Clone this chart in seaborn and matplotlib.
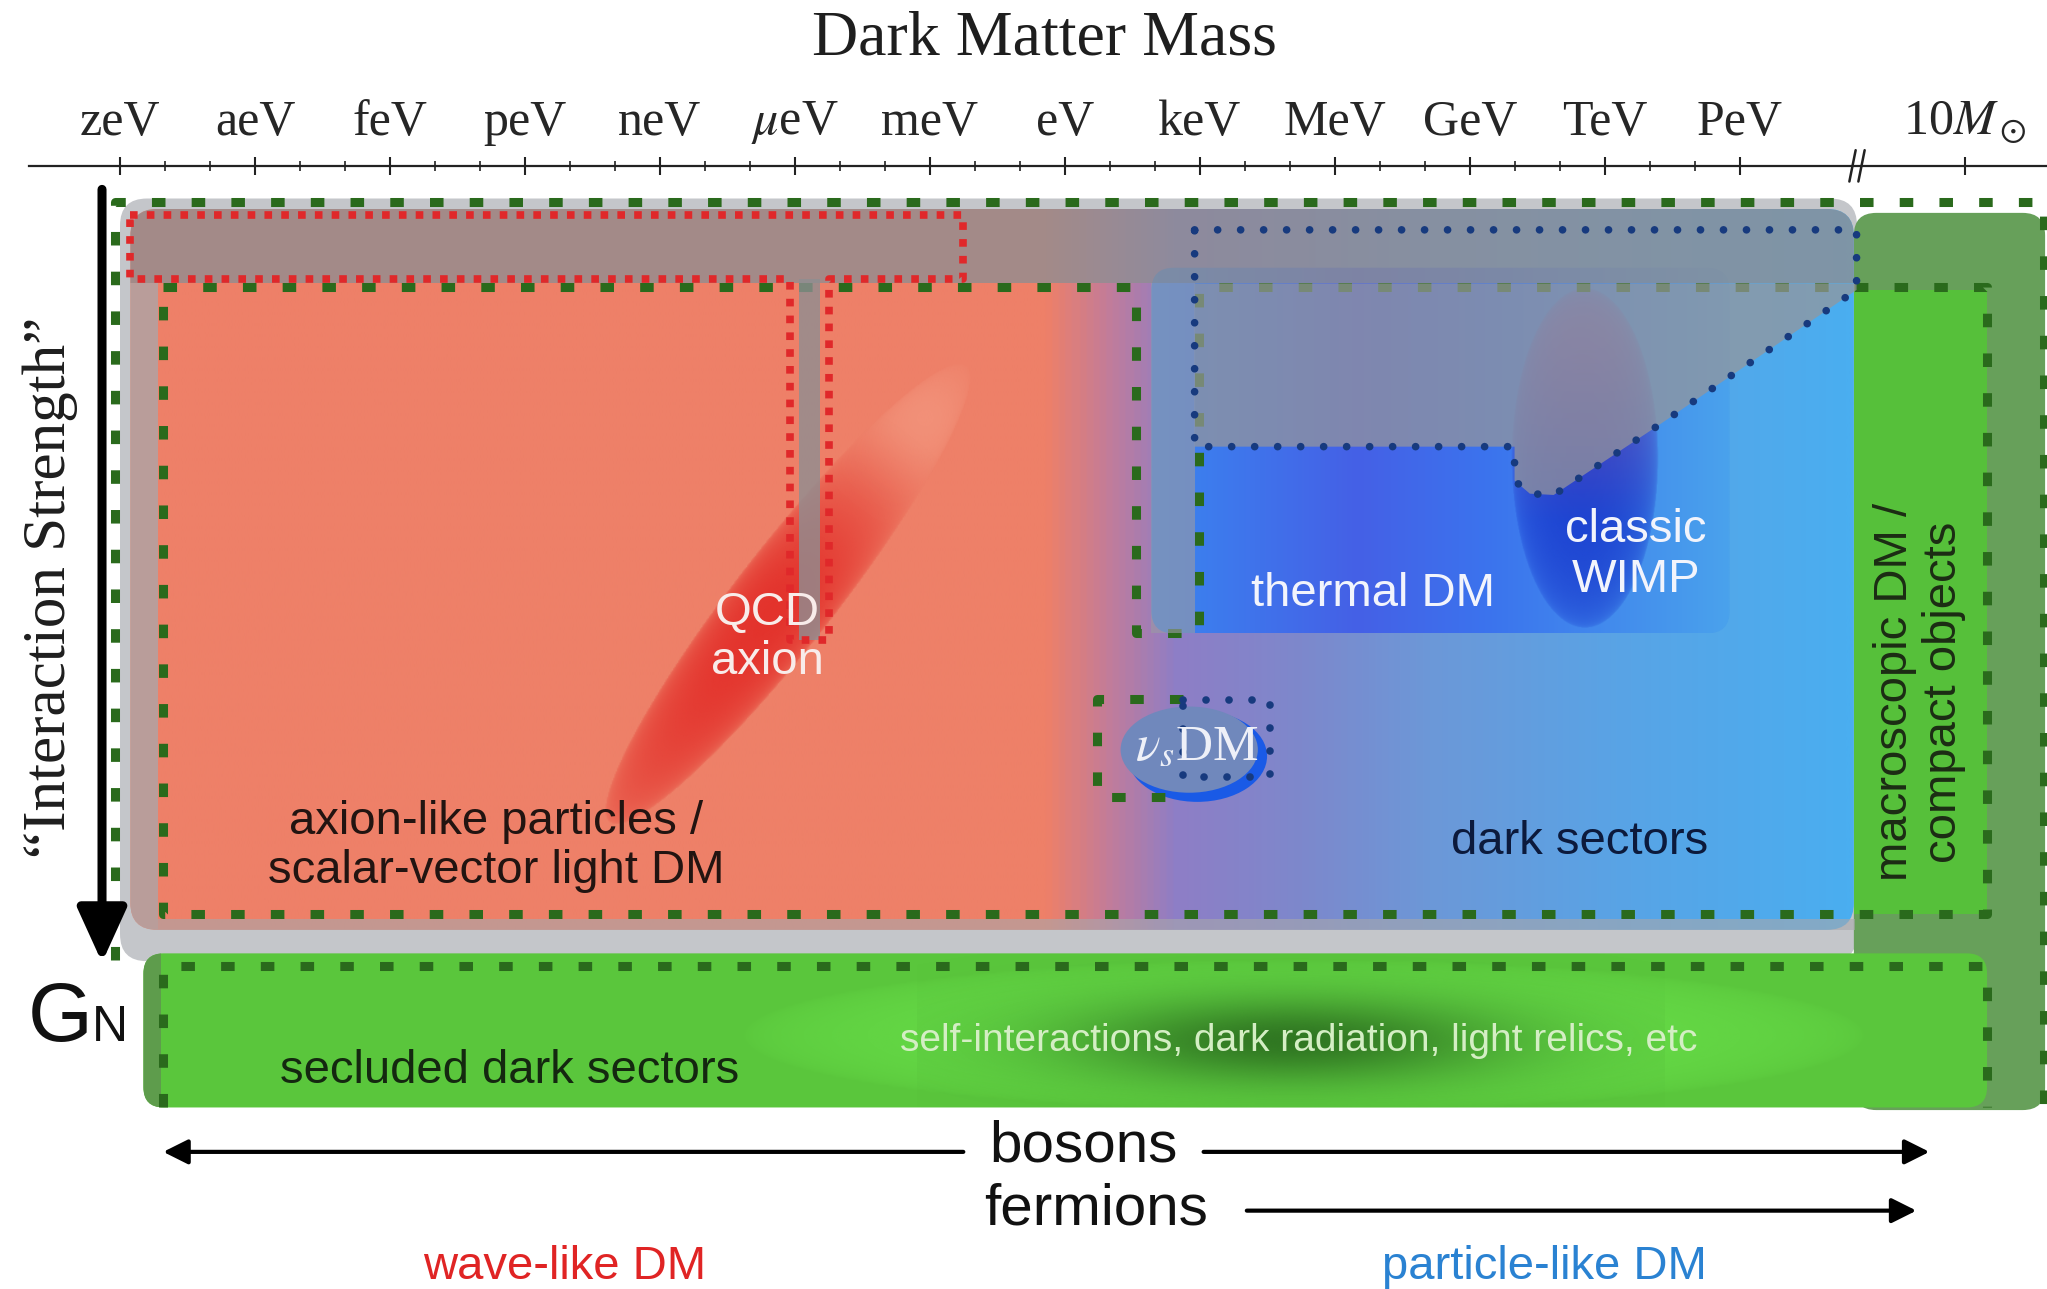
import matplotlib.pyplot as plt
import numpy as np
import seaborn as sns
from matplotlib.colors import LinearSegmentedColormap, to_rgb
from matplotlib.patches import Ellipse, FancyBboxPatch, Polygon, Rectangle

# ---------------- data (x: log10(mass / eV), y: interaction strength, arbitrary units, weaker downwards)
MASS_TICKS = [-21, -18, -15, -12, -9, -6, -3, 0, 3, 6, 9, 12, 15, 20]
MASS_LABELS = ['zeV', 'aeV', 'feV', 'peV', 'neV', r'$\mu$eV', 'meV', 'eV', 'keV',
               'MeV', 'GeV', 'TeV', 'PeV', r'10$M_\odot$']
MINOR_TICKS = [-20, -19, -17, -16, -14, -13, -11, -10, -8, -7, -5, -4, -2, -1,
               1, 2, 4, 5, 7, 8, 10, 11, 13, 14]
AXIS_BREAK = 17.6

# colour across the mass range: wave-like (red) -> particle-like (blue)
GRAD_X = [-20.77, -0.4, 1.0, 2.5, 5.3, 8.2, 12.6, 17.53]
GRAD_COLORS = ['#ee8068', '#ee8068', '#c27c9a', '#8e7ec6', '#7d88cc', '#6c98d8', '#58a4e6', '#4aaef0']

# thermal DM window
THERMAL_X = [1.92, 6.5, 9.5, 14.77]
THERMAL_COLORS = ['#3a86f0', '#4560e6', '#3b74ee', '#4aa2ec']
THERMAL_Y = [205, 485]
EXCL_X = [2.88, 17.59, 17.59, 13.26, 10.86, 10.33, 9.99, 9.99, 2.88, 2.88]
EXCL_Y = [176, 176, 222, 324, 379, 378, 368, 342, 342, 176]

# outlines
WAVE_X = [-20.77, -2.26, -2.26, -5.25, -5.25, -6.12, -6.12, -20.77, -20.77]
WAVE_Y = [165, 165, 214, 214, 490, 490, 214, 214, 165]
DARK_X = [-20.04, 1.57, 1.57, 2.97, 2.97, 20.49, 20.49, -20.04, -20.04]
DARK_Y = [220, 220, 485, 485, 220, 220, 700, 700, 220]
OUTER_X = [-21.11, -21.11, 21.75, 21.75]
OUTER_Y = [735, 155, 155, 848]
SECLUDED_X = [-20.04, -20.04, 20.49, 20.49]
SECLUDED_Y = [848, 740, 740, 848]
NUS_GREEN_X = [2.62, 0.70, 0.70, 2.62]
NUS_GREEN_Y = [535, 535, 610, 610]
NUS_BLUE_X = [2.62, 4.56, 4.56, 2.62, 2.62]
NUS_BLUE_Y = [536, 536, 595, 595, 536]

QCD_AXION = (-6.15, 455)
WIMP = (11.55, 351)
NU_S = (2.82, 577)
BAND_GLOW = (5.3, 793)

# ---------------- figure
W, H, DPI = 2047, 1289, 100
X_LIM = (-23.667, 21.822)
Y_LIM = (987, 0)
ASPECT = (W / (X_LIM[1] - X_LIM[0])) / (H / (Y_LIM[0] - Y_LIM[1]))

sns.set_theme(style='white')
plt.rcParams['font.family'] = ['Liberation Sans', 'DejaVu Sans']
plt.rcParams['mathtext.fontset'] = 'stix'
SERIF = ['Liberation Serif', 'DejaVu Serif']

fig = plt.figure(figsize=(W / DPI, H / DPI), dpi=DPI)
ax = fig.add_axes([0, 0, 1, 1])
ax.set_facecolor('white')


def rbox(x0, x1, y0, y1, r, **kw):
    p = FancyBboxPatch((x0, y0), x1 - x0, y1 - y0, boxstyle=f'round,pad=0,rounding_size={r}',
                       mutation_aspect=ASPECT, transform=ax.transData, **kw)
    ax.add_patch(p)
    return p


def hgrad(xs, colors, y0, y1, clip, z):
    pos = (np.array(xs) - xs[0]) / (xs[-1] - xs[0])
    cmap = LinearSegmentedColormap.from_list('g', list(zip(pos, colors)))
    im = ax.imshow(np.linspace(0, 1, 800)[None, :], cmap=cmap, extent=(xs[0], xs[-1], y1, y0),
                   origin='upper', aspect='auto', zorder=z, interpolation='bilinear')
    im.set_clip_path(clip)


def field(cx, cy, a, b, angle, n=500):
    ext = max(a, b) * 1.1
    xs = np.linspace(cx - ext / ASPECT, cx + ext / ASPECT, n)
    ys = np.linspace(cy - ext, cy + ext, n)
    X, Y = np.meshgrid(xs, ys)
    u, v = (X - cx) * ASPECT, cy - Y
    th = np.radians(angle)
    s = (u * np.cos(th) + v * np.sin(th)) / a
    q = (-u * np.sin(th) + v * np.cos(th)) / b
    return (xs[0], xs[-1], ys[0], ys[-1]), Y, s, q


def paint(extent, rgb, alpha, z, clip=None):
    rgba = np.zeros(alpha.shape + (4,))
    rgba[..., :3] = rgb
    rgba[..., 3] = np.clip(alpha, 0, 1)
    x0, x1, y0, y1 = extent
    im = ax.imshow(rgba, extent=(x0, x1, y1, y0), origin='upper', aspect='auto',
                   zorder=z, interpolation='bilinear')
    if clip is not None:
        im.set_clip_path(clip)


# backdrop and columns
rbox(-21.0, 17.6, 152, 736, 0.6, fc='#c4c6ca', ec='none', zorder=1)
rbox(17.53, 21.78, 163, 850, 0.5, fc='#67a05a', ec='none', zorder=1)
ax.add_patch(Rectangle((17.53, 222), 20.49 - 17.53, 700 - 222, fc='#56c03a', ec='none', zorder=2))

# main coloured region
main_clip = rbox(-20.77, 17.53, 160, 712, 0.6, fc='none', ec='none', zorder=2)
hgrad(GRAD_X, GRAD_COLORS, 160, 712, main_clip, 2)

# thermal window
th_clip = rbox(THERMAL_X[0], THERMAL_X[-1], THERMAL_Y[0], THERMAL_Y[1], 0.5, fc='none', ec='none', zorder=3)
hgrad(THERMAL_X, THERMAL_COLORS, THERMAL_Y[0], THERMAL_Y[1], th_clip, 3)

# classic WIMP
ext, Y, s, q = field(*WIMP, 56, 130, 0)
frac = np.clip((Y - 250) / 150, 0, 1)[..., None]
rgb = np.array(to_rgb('#7a48a8')) * (1 - frac) + np.array(to_rgb('#1636cc')) * frac
paint(ext, rgb, 0.85 * np.clip(1 - (s ** 2 + q ** 2), 0, 1) ** 0.3, 4)

# QCD axion band
ext, Y, s, q = field(*QCD_AXION, 222, 38, 52)
body = np.clip(1 - (s ** 2 + q ** 2), 0, 1) ** 0.3
lower = np.clip(1 - ((s + 0.1) / 1.3) ** 2, 0, 1) ** 0.45
upper = np.clip(1 - ((s + 0.1) / 0.8) ** 2, 0, 1) ** 1.4
core = np.where(s < -0.1, lower, upper)
paint(ext, to_rgb('#e3302a'), 0.97 * body * core, 4)
tip = np.exp(-((s - 0.8) / 0.22) ** 2)
paint(ext, to_rgb('#f8a890'), 0.55 * body * tip, 4)

# sterile neutrino
ax.add_patch(Ellipse((NU_S[0] + 0.12, NU_S[1] + 2), 3.1, 70, fc='#1a5ae6', ec='none', zorder=4))
ax.add_patch(Ellipse((NU_S[0] - 0.06, NU_S[1] - 3), 3.05, 66, fc='#7088bc', ec='none', zorder=4))

# excluded / gray regions
ax.add_patch(Rectangle((-20.77, 160), 17.53 + 20.77, 57, fc='#8e8e92', ec='none', alpha=0.78,
                       zorder=6, clip_path=main_clip))
ax.add_patch(Rectangle((-20.77, 217), 0.62, 495, fc='#a8a8ac', ec='none', alpha=0.75,
                       zorder=6, clip_path=main_clip))
ax.add_patch(Rectangle((-20.15, 704), 37.7, 8, fc='#a8a8ac', ec='none', alpha=0.6, zorder=6))
ax.add_patch(Rectangle((-5.91, 214), 0.46, 276, fc='#8e8e92', ec='none', alpha=0.8, zorder=6))
excl = np.column_stack([EXCL_X, np.maximum(EXCL_Y, 217)])
ax.add_patch(Polygon(excl, closed=True, fc='#96969a', ec='none', alpha=0.72, zorder=6))
ax.add_patch(Rectangle((1.92, 217), 0.96, 268, fc='#9a9aa4', ec='none', alpha=0.62, zorder=6))

# secluded band
band = rbox(-20.48, 20.49, 730, 848, 0.45, fc='#5ac63c', ec='none', zorder=2)
ext, Y, s, q = field(*BAND_GLOW, 430, 58, 0)
paint(ext, to_rgb('#6ae24a'), 0.8 * np.clip(1 - (s ** 2 + q ** 2), 0, 1) ** 0.5, 3, band)
ext, Y, s, q = field(BAND_GLOW[0] - 0.3, BAND_GLOW[1] + 4, 260, 52, 0)
paint(ext, to_rgb('#2a6c1e'), 0.9 * np.exp(-2.2 * (s ** 2 + q ** 2)), 3, band)
ax.add_patch(Rectangle((-20.48, 730), 0.38, 118, fc='#5e9c4c', ec='none', zorder=3, clip_path=band))

# outlines
GREEN, RED, NAVY = '#2a6a1c', '#e0282a', '#173a7e'
green_ls = (0, (1.5, 2.9))
ax.plot(DARK_X, DARK_Y, color=GREEN, lw=6.5, ls=green_ls, zorder=5)
ax.plot(OUTER_X, OUTER_Y, color=GREEN, lw=6.5, ls=green_ls, zorder=8)
ax.plot(SECLUDED_X, SECLUDED_Y, color=GREEN, lw=6.5, ls=green_ls, zorder=8)
ax.plot(NUS_GREEN_X, NUS_GREEN_Y, color=GREEN, lw=6.5, ls=green_ls, zorder=8)
ax.plot(WAVE_X, WAVE_Y, color=RED, lw=5.5, ls=(0, (1.0, 1.2)), zorder=8)
ax.plot(EXCL_X, EXCL_Y, color=NAVY, lw=5.5, ls=(0, (0.01, 3.0)), dash_capstyle='round', zorder=8)
ax.plot(NUS_BLUE_X, NUS_BLUE_Y, color=NAVY, lw=5.5, ls=(0, (0.01, 3.0)), dash_capstyle='round', zorder=8)

# interaction-strength arrow and labels
ax.annotate('', xy=(-21.40, 737), xytext=(-21.40, 145),
            arrowprops=dict(arrowstyle='-|>,head_length=0.55,head_width=0.25', lw=6.5,
                            color='black', mutation_scale=60, shrinkA=0, shrinkB=0), zorder=9)
ax.text(-22.56, 450, '\u201cInteraction Strength\u201d', rotation=90, ha='center', va='center',
        fontsize=44, family=SERIF, color='#1e1e1e')
ax.text(-22.33, 797, 'G', ha='center', va='baseline', fontsize=60, color='#111111')
ax.text(-21.23, 797, 'N', ha='center', va='baseline', fontsize=36, color='#111111')

# region labels
txt = dict(ha='center', va='center', fontsize=34, zorder=10, linespacing=1.15)
ax.text(-12.64, 648, 'axion-like particles /\nscalar-vector light DM', color='#221411', **txt)
ax.text(-6.61, 488, 'QCD\naxion', color='#f8ecea', **txt)
ax.text(6.85, 455, 'thermal DM', color='#f2f4fc', **txt)
ax.text(12.68, 425, 'classic\nWIMP', color='#f2f4fc', **txt)
ax.text(11.44, 645, 'dark sectors', color='#0c1a3c', **txt)
ax.text(18.98, 530, 'macroscopic DM /\ncompact objects', rotation=90, color='#1c2c14', **txt)
ax.text(-12.35, 820, 'secluded dark sectors', color='#142810', **txt)
ax.text(5.2, 797, 'self-interactions, dark radiation, light relics, etc', color='#d4eec4',
        ha='center', va='center', fontsize=28, zorder=10)
ax.text(NU_S[0] + 0.1, 573, r'$\nu_s$DM', ha='center', va='center', fontsize=37,
        family=SERIF, color='#eef0f8', zorder=10)

# bosons / fermions
arrow = dict(arrowstyle='-|>,head_length=0.6,head_width=0.3', lw=3, color='black',
             mutation_scale=25, shrinkA=0, shrinkB=0)
ax.annotate('', xy=(-20.04, 882), xytext=(-2.26, 882), arrowprops=arrow)
ax.annotate('', xy=(19.21, 882), xytext=(3.08, 882), arrowprops=arrow)
ax.annotate('', xy=(18.92, 927), xytext=(4.04, 927), arrowprops=arrow)
ax.text(0.41, 878, 'bosons', ha='center', va='center', fontsize=42, color='#111111')
ax.text(0.70, 926, 'fermions', ha='center', va='center', fontsize=42, color='#111111')
ax.text(-11.13, 970, 'wave-like DM', ha='center', va='center', fontsize=34, color='#e02424')
ax.text(10.65, 970, 'particle-like DM', ha='center', va='center', fontsize=34, color='#2a82d2')

# mass axis
ax.text(-0.46, 30, 'Dark Matter Mass', ha='center', va='center', fontsize=46,
        family=SERIF, color='#1e1e1e')
for sp in ['left', 'right', 'bottom']:
    ax.spines[sp].set_visible(False)
ax.spines['top'].set_position(('data', 127))
ax.spines['top'].set_bounds(-23.03, X_LIM[1])
ax.spines['top'].set_color('#222222')
ax.spines['top'].set_linewidth(1.6)
ax.yaxis.set_visible(False)
ax.set_xticks(MASS_TICKS)
ax.set_xticklabels(MASS_LABELS, fontsize=36, family=SERIF, color='#262626')
ax.set_xticks(MINOR_TICKS, minor=True)
ax.tick_params(axis='x', which='both', top=True, bottom=False, labeltop=True, labelbottom=False,
               direction='inout', color='#222222')
ax.tick_params(axis='x', which='major', length=13, width=1.5, pad=8)
ax.tick_params(axis='x', which='minor', length=7.5, width=1.2)
for xb in [AXIS_BREAK - 0.1, AXIS_BREAK + 0.1]:
    ax.plot([xb - 0.07, xb + 0.07], [139, 115], color='#222222', lw=1.8, zorder=9, clip_on=False)

ax.set_xlim(*X_LIM)
ax.set_ylim(*Y_LIM)
ax.grid(False)

fig.savefig('out.png', dpi=DPI)
